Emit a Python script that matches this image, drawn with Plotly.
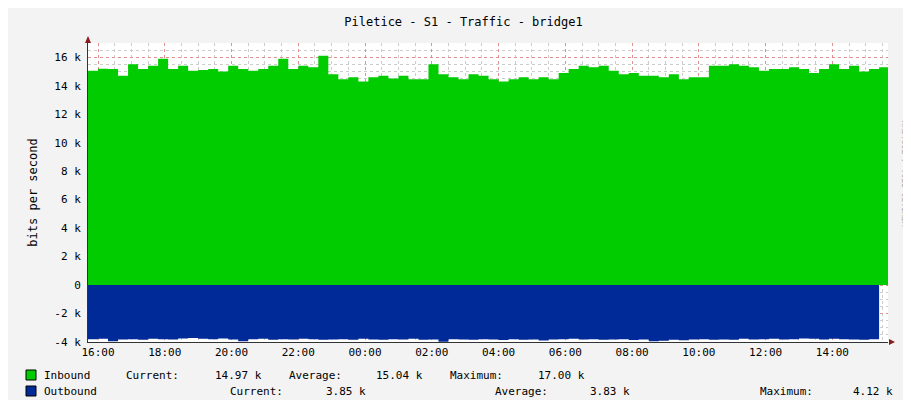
import plotly.graph_objects as go
import pandas as pd

inbound_k = [15.05, 15.2, 15.17, 14.7, 15.5, 15.17, 15.4, 15.9, 15.17, 15.4,
             15.05, 15.1, 15.17, 15.0, 15.4, 15.17, 15.05, 15.17, 15.4, 15.9,
             15.17, 15.4, 15.3, 16.1, 14.8, 14.45, 14.6, 14.3, 14.6, 14.7,
             14.5, 14.7, 14.45, 14.45, 15.5, 14.8, 14.6, 14.45, 14.8, 14.7,
             14.45,
             14.3, 14.45, 14.6, 14.45, 14.6, 14.45, 14.9, 15.17, 15.4, 15.3,
             15.4, 15.05, 14.8, 14.9, 14.7, 14.7, 14.6, 14.8, 14.45, 14.6,
             14.6, 15.4, 15.4, 15.5, 15.4, 15.3, 15.05, 15.17, 15.17, 15.3,
             15.17, 14.9, 15.17, 15.5, 15.17, 15.4, 15.0, 15.17, 15.3]
outbound_k = [-3.8, -3.78, -3.95, -3.82, -3.8, -3.85, -3.78, -3.8, -3.82, -3.75,
              -3.72, -3.78, -3.8, -3.76, -3.82, -3.95, -3.8, -3.78, -3.85, -3.8,
              -3.82, -3.78, -3.8, -3.85, -3.82, -3.8, -3.84, -3.78, -3.82, -3.85,
              -3.8, -3.82, -3.78, -3.84, -3.82, -3.98, -3.8, -3.82, -3.85, -3.8,
              -3.82, -3.86, -3.8, -3.84, -3.82, -3.9, -3.82, -3.8, -3.78, -3.82,
              -3.8, -3.85, -3.82, -3.8, -3.86, -3.82, -3.95, -3.92, -3.85, -3.88,
              -3.82, -3.8, -3.85, -3.82, -3.84, -3.78, -3.82, -3.8, -3.78, -3.82,
              -3.8, -3.75, -3.78, -3.82, -3.78, -3.8, -3.82, -3.85, -3.8]

times = pd.date_range("2024-01-01 15:42", "2024-01-02 15:42", periods=len(inbound_k) + 1)
inb = [v * 1000 for v in inbound_k]
outb = [v * 1000 for v in outbound_k]
x = list(times)
inb_s = inb + [inb[-1]]
outb_s = outb + [outb[-1]]

fig = go.Figure()
fig.add_trace(go.Scatter(x=x, y=inb_s, mode="lines", line=dict(shape="hv", width=0, color="#00cc00"),
                         fill="tozeroy", fillcolor="#00cc00", hoverinfo="skip"))
fig.add_trace(go.Scatter(x=x, y=outb_s, mode="lines", line=dict(shape="hv", width=0, color="#002a97"),
                         fill="tozeroy", fillcolor="#002a97", hoverinfo="skip"))

font = dict(family="DejaVu Sans Mono", size=11, color="#000000")
ticks = pd.date_range("2024-01-01 16:00", "2024-01-02 14:00", freq="2h")
fig.update_layout(
    width=911, height=400, showlegend=False,
    margin=dict(l=80, r=31, t=35, b=66, autoexpand=False),
    paper_bgcolor="#f3f3f3", plot_bgcolor="#ffffff", font=font,
    title=dict(text="Piletice - S1 - Traffic - bridge1", x=0.5, xanchor="center", yref="container",
               y=0.965, yanchor="middle", font=dict(family="DejaVu Sans Mono", size=12)),
    xaxis=dict(range=[times[0], times[-1] - pd.Timedelta(minutes=2)], tickvals=list(ticks),
               ticktext=[t.strftime("%H:%M") for t in ticks], automargin=False,
               showgrid=True, gridcolor="rgba(230,120,120,0.7)", griddash="dot", gridwidth=1,
               minor=dict(dtick=30 * 60 * 1000, showgrid=True, gridcolor="#cccccc", griddash="dot"),
               ticks="", showline=True, linecolor="#333333", zeroline=False, tickfont=font),
    yaxis=dict(range=[-4000, 17000], tickvals=[-4000, -2000, 0, 2000, 4000, 6000, 8000, 10000, 12000, 14000, 16000],
               ticktext=["-4 k", "-2 k", "0", "2 k", "4 k", "6 k", "8 k", "10 k", "12 k", "14 k", "16 k"],
               showgrid=True, gridcolor="rgba(230,120,120,0.7)", griddash="dot", automargin=False,
               minor=dict(dtick=500, showgrid=True, gridcolor="#cccccc", griddash="dot"),
               showline=True, linecolor="#333333", zeroline=False, ticks="", ticklabelstandoff=4,
               title=dict(text="bits per second", font=dict(family="DejaVu Sans Mono", size=12), standoff=14),
               tickfont=font),
)

def px2x(p): return (p - 80) / 800.0
def py2y(p): return (334 - p) / 299.0

rows = [
    (367, [(34, "Inbound"), (116, "Current:"), (205, "14.97 k"), (279, "Average:"), (366, "15.04 k"),
           (440, "Maximum:"), (528, "17.00 k")], "#00cc00"),
    (383, [(34, "Outbound"), (220, "Current:"), (316, "3.85 k"), (485, "Average:"), (580, "3.83 k"),
           (750, "Maximum:"), (843, "4.12 k")], "#002a97"),
]
shapes = []
for ypx, items, col in rows:
    for xp, t in items:
        fig.add_annotation(x=px2x(xp), y=py2y(ypx), xref="paper", yref="paper", text=t, showarrow=False,
                           xanchor="left", yanchor="middle", font=font)
    shapes.append(dict(type="rect", xref="paper", yref="paper", x0=px2x(18), x1=px2x(28),
                       y0=py2y(ypx + 5), y1=py2y(ypx - 5), fillcolor=col, line=dict(color="#000000", width=1)))
shapes.append(dict(type="path", xref="paper", yref="paper",
                   path=f"M {px2x(77)} {py2y(35)} L {px2x(83)} {py2y(35)} L {px2x(80)} {py2y(28)} Z",
                   fillcolor="#8b1a1a", line=dict(width=0)))
shapes.append(dict(type="path", xref="paper", yref="paper",
                   path=f"M {px2x(881)} {py2y(331)} L {px2x(881)} {py2y(337)} L {px2x(887)} {py2y(334)} Z",
                   fillcolor="#8b1a1a", line=dict(width=0)))
fig.update_layout(shapes=shapes)
fig.add_annotation(x=px2x(903), y=py2y(110), xref="paper", yref="paper", text="RRDTOOL / TOBI OETIKER",
                   showarrow=False, textangle=90, font=dict(family="DejaVu Sans Mono", size=8, color="#aaaaaa"))

fig.write_html("out.html")
